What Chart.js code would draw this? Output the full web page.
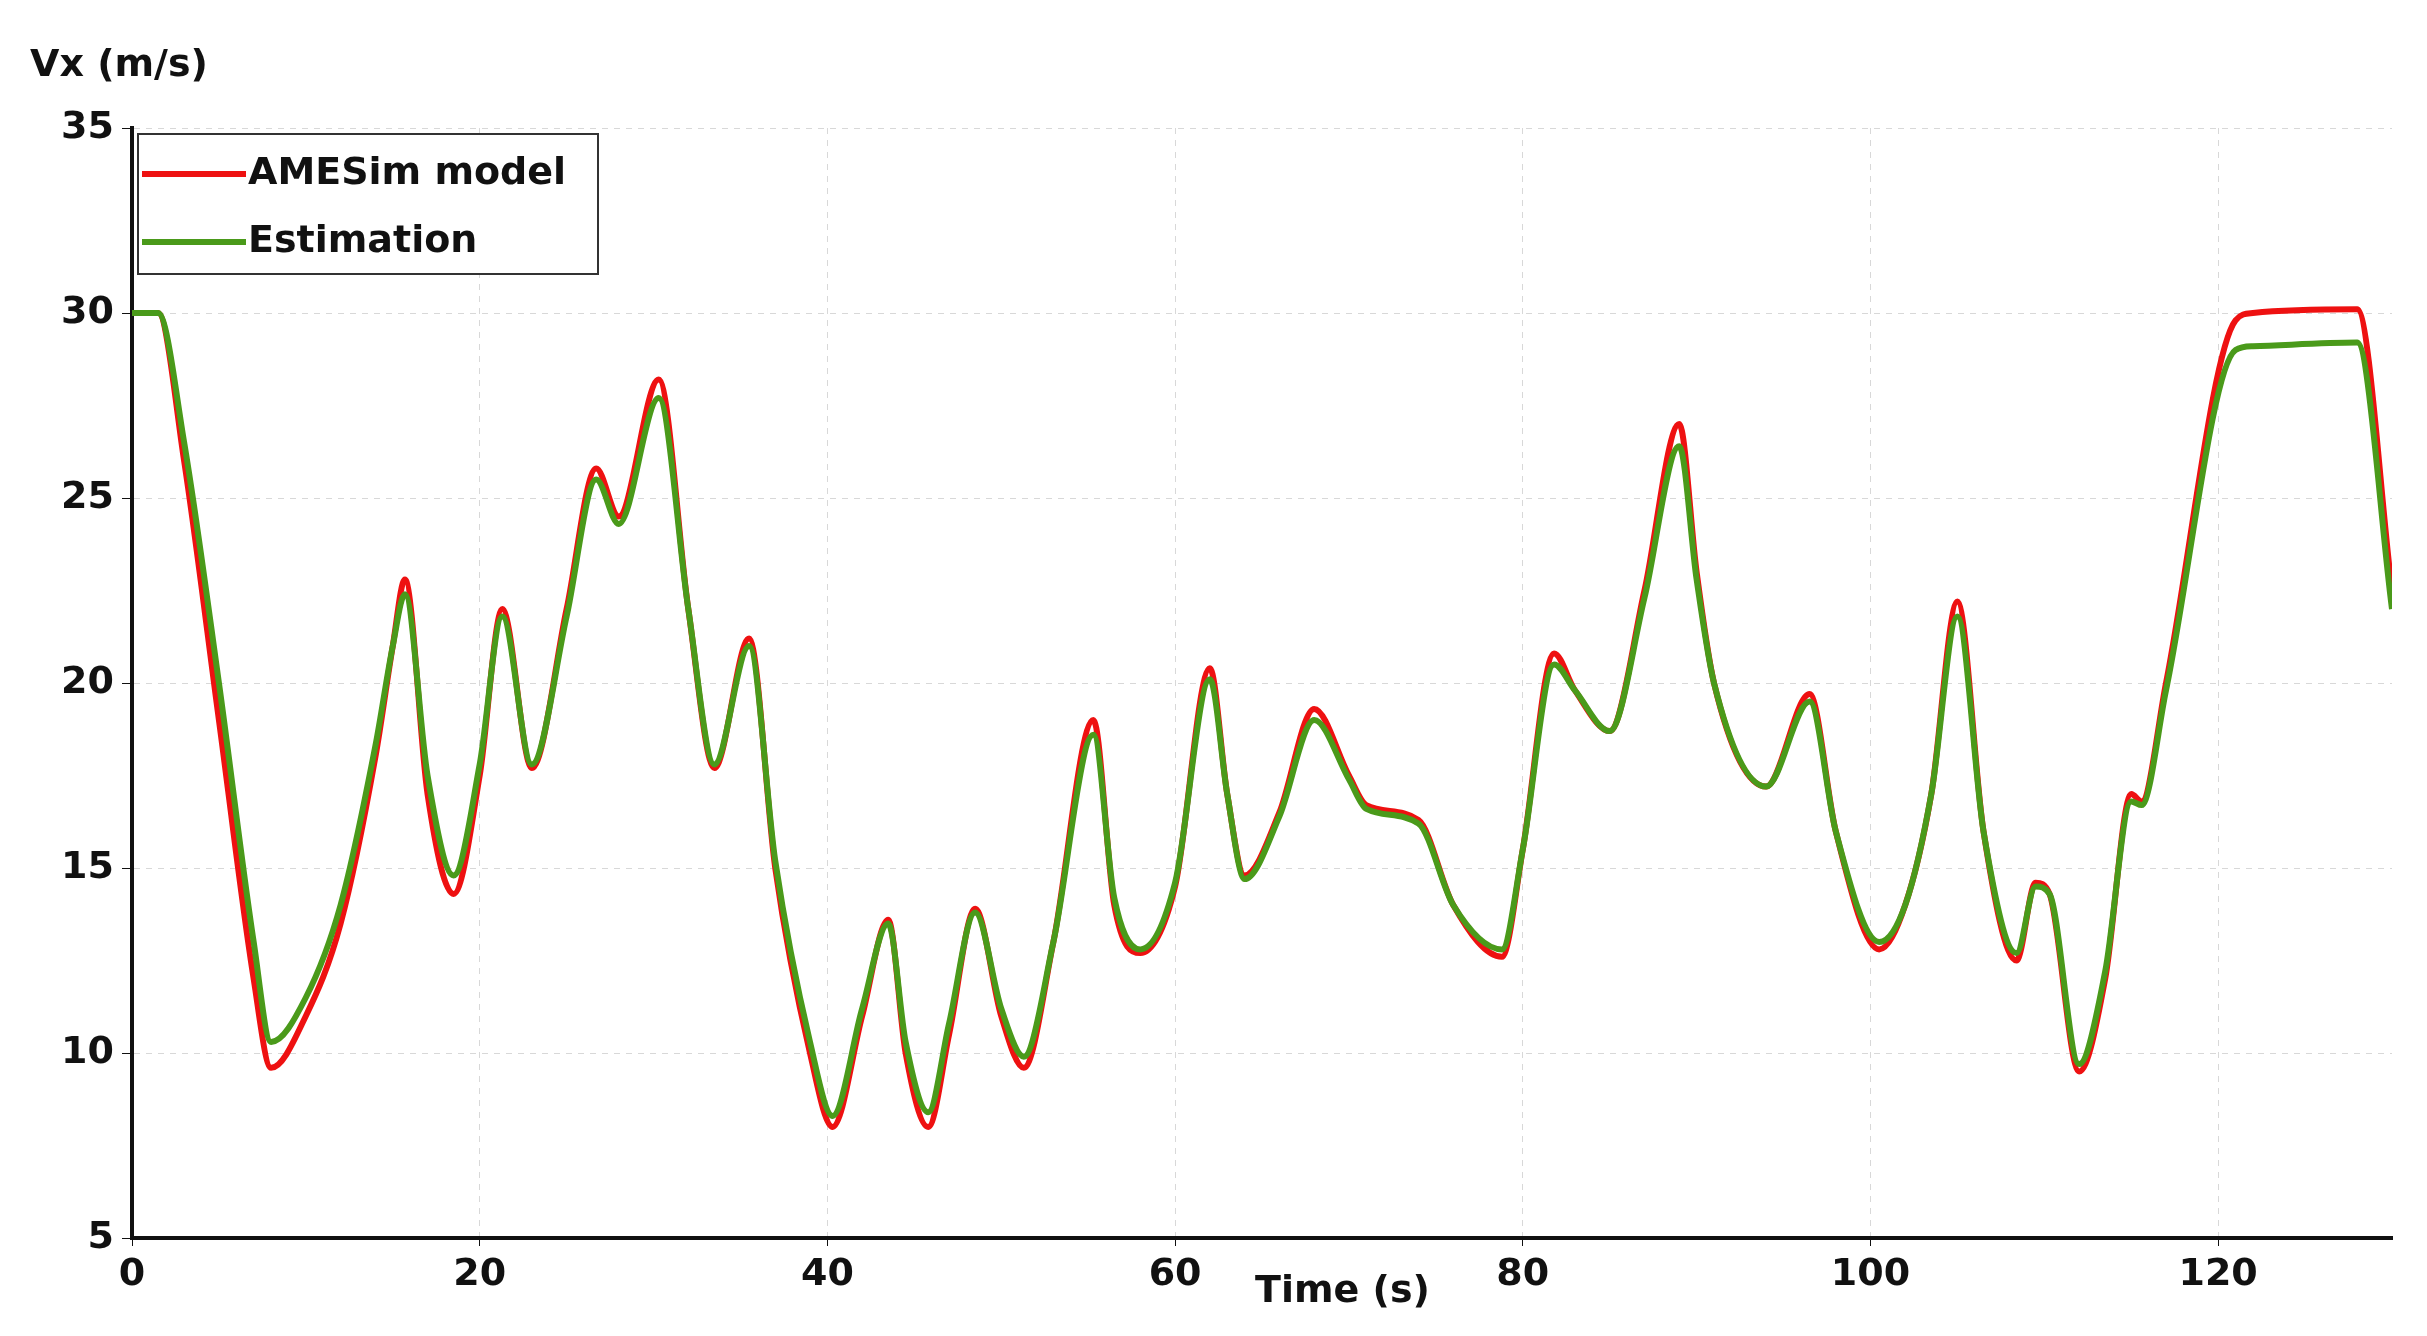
<!DOCTYPE html>
<html>
<head>
<meta charset="utf-8">
<script src="https://cdn.jsdelivr.net/npm/chart.js@4.4.0/dist/chart.umd.min.js"></script>
<style>
  html, body { margin: 0; padding: 0; background: #fff; }
  #wrap { width: 2427px; height: 1336px; }
</style>
</head>
<body>
<div id="wrap"><canvas id="c" width="2427" height="1336"></canvas></div>
<script>
// time (s) and speed values
const timeRed = [0,1.5,3,5,7,8,10,12,14,15,15.7,17,18.5,20,21.3,23,25,26.7,28,30.3,32,33.5,35.5,37,39,40.3,42,43.5,44.5,45.8,47,48.5,50,51.3,53,55.3,56.5,58,60,62,63,64,66,68,70,71,74,76,78.8,80,81.8,83,85,87,89,90,91,94,96.5,98,100.5,102,103.5,105,106.5,108.4,109.5,110.3,112,113.5,115,115.6,117,121,122,128,130];
const vxRed = [30,30,26,19,12,9.6,11,13.5,18,21,22.8,17,14.3,17.5,22,17.7,22,25.8,24.5,28.2,22,17.7,21.2,15,10,8,11,13.6,10,8,10.5,13.9,11,9.6,13,19,14,12.7,14.5,20.4,17,14.8,16.5,19.3,17.5,16.7,16.3,14,12.6,15.5,20.8,19.8,18.7,22.5,27,23,20,17.2,19.7,16,12.8,14,17,22.2,16,12.5,14.6,14.3,9.5,12,17,16.8,20,29.8,30,30.1,22.5];
const timeGreen = [0,1.5,3,5,7,8,10,12,14,15,15.7,17,18.5,20,21.3,23,25,26.7,28,30.3,32,33.5,35.5,37,39,40.3,42,43.5,44.5,45.8,47,48.5,50,51.3,53,55.3,56.5,58,60,62,63,64,66,68,70,71,74,76,78.8,80,81.8,83,85,87,89,90,91,94,96.5,98,100.5,102,103.5,105,106.5,108.4,109.5,110.3,112,113.5,115,115.6,117,121,122,128,130];
const vxGreen = [30,30,26.5,20,13,10.3,11.5,14,18.3,21,22.4,17.5,14.8,17.8,21.8,17.8,21.8,25.5,24.3,27.7,22,17.8,21,15.2,10.3,8.3,11.2,13.5,10.3,8.4,10.8,13.8,11.2,9.9,13,18.6,14.2,12.8,14.6,20.1,17,14.7,16.4,19,17.4,16.6,16.2,14,12.8,15.5,20.5,19.8,18.7,22.3,26.4,22.8,20,17.2,19.5,16,13,14,17,21.8,16,12.7,14.5,14.3,9.7,12.2,16.8,16.7,19.8,29,29.1,29.2,22];
const seriesNames = ['AMESim model', 'Estimation'];
const seriesColors = ['#ee1111', '#4a9a1a'];
const yTicks = [5,10,15,20,25,30,35];
const xTicks = [0,20,40,60,80,100,120];

const toXY = (xs, ys) => xs.map((x, i) => ({ x: x, y: ys[i] }));
const boldFont = { family: 'Verdana, "DejaVu Sans", sans-serif', size: 38, weight: 'bold' };

// legend box, axis titles
const extras = {
  id: 'extras',
  afterDraw(chart) {
    const ctx = chart.ctx, a = chart.chartArea;
    ctx.save();
    ctx.font = 'bold 38px "DejaVu Sans", sans-serif';
    ctx.fillStyle = '#111';
    ctx.textBaseline = 'middle';
    ctx.fillText('Vx (m/s)', 30, 66);
    ctx.fillText('Time (s)', 1255, 1292);
    // legend
    const lx = a.left + 6, ly = a.top + 6, lw = 460, lh = 140;
    ctx.fillStyle = '#fff';
    ctx.fillRect(lx, ly, lw, lh);
    ctx.strokeStyle = '#333';
    ctx.lineWidth = 2;
    ctx.strokeRect(lx, ly, lw, lh);
    seriesNames.forEach((n, i) => {
      const yy = ly + 40 + i * 68;
      ctx.strokeStyle = seriesColors[i];
      ctx.lineWidth = 6;
      ctx.beginPath();
      ctx.moveTo(lx + 4, yy);
      ctx.lineTo(lx + 108, yy);
      ctx.stroke();
      ctx.fillStyle = '#111';
      ctx.fillText(n, lx + 110, yy);
    });
    ctx.restore();
  }
};

new Chart(document.getElementById('c'), {
  type: 'line',
  data: {
    datasets: [
      { label: seriesNames[1], data: toXY(timeGreen, vxGreen), borderColor: seriesColors[1], borderWidth: 6, pointRadius: 0, cubicInterpolationMode: 'monotone' },
      { label: seriesNames[0], data: toXY(timeRed, vxRed), borderColor: seriesColors[0], borderWidth: 6, pointRadius: 0, cubicInterpolationMode: 'monotone' }
    ]
  },
  options: {
    responsive: false,
    animation: false,
    layout: { padding: { top: 128, right: 35, left: 10, bottom: 10 } },
    plugins: { legend: { display: false }, tooltip: { enabled: false } },
    scales: {
      x: {
        type: 'linear', min: 0, max: 130,
        afterBuildTicks: s => { s.ticks = xTicks.map(v => ({ value: v })); },
        ticks: { font: boldFont, color: '#111', padding: 6 },
        grid: { color: '#d8d8d8', tickLength: 8, tickColor: '#111' },
        border: { color: '#111', width: 4, dash: [6, 6] },
        afterFit: s => { s.height = 88; }
      },
      y: {
        min: 5, max: 35,
        afterBuildTicks: s => { s.ticks = yTicks.map(v => ({ value: v })); },
        ticks: { font: boldFont, color: '#111', padding: 8 },
        grid: { color: '#d8d8d8', tickLength: 10, tickColor: '#111' },
        border: { color: '#111', width: 4, dash: [6, 6] },
        afterFit: s => { s.width = 122; }
      }
    }
  },
  plugins: [extras]
});
</script>
</body>
</html>
